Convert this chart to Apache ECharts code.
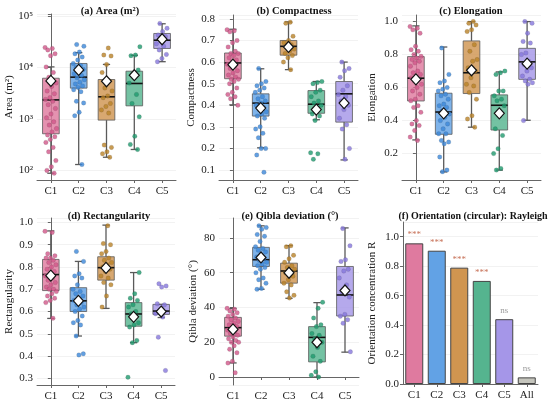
<!DOCTYPE html>
<html>
<head>
<meta charset="utf-8">
<script src="https://cdn.jsdelivr.net/npm/echarts@6/dist/echarts.min.js"></script>
<style>
html, body { margin: 0; padding: 0; background: #fff; }
#chart { width: 550px; height: 403px; }
</style>
</head>
<body>
<div id="chart"></div>
<script>
var groups = ['C1', 'C2', 'C3', 'C4', 'C5']
var orientGroups = ['C1', 'C2', 'C3', 'C4', 'C5', 'All']

// box stats per cluster: [min, q1, median, q3, max]
var areaBox = [[88, 515, 2350, 6200, 10300], [130, 3980, 6500, 12000, 19500], [180, 950, 2700, 5850, 11500], [255, 1800, 4900, 8500, 17300], [13000, 23500, 34000, 46000, 71000]]
var areaMean = [5500, 9000, 5400, 7100, 35500]
var areaPts = [
    [24500, 23500, 22000, 18500, 17000, 10300, 8000, 6500, 5000, 4300, 3500, 3100, 2600, 2400, 2200, 1900, 1600, 1250, 1050, 880, 760, 650, 560, 490, 450, 400, 350, 280, 230, 155, 118, 100, 88],
    [28000, 26000, 20000, 18500, 16000, 14000, 12000, 11000, 10000, 9200, 8400, 7600, 7000, 6300, 5800, 5200, 4800, 4400, 4100, 3700, 3400, 2200, 2050, 1350, 1150, 130],
    [24000, 17500, 16800, 11500, 8000, 5500, 4000, 3500, 2800, 2600, 2000, 1750, 1500, 1300, 310, 280, 230, 210, 180],
    [25500, 17500, 17000, 9000, 7000, 5000, 3000, 2000, 1100, 460, 320, 255],
    [72000, 58000, 50000, 43000, 40000, 33000, 29000, 26000, 22000, 18000, 15000, 13000]
]

var compBox = [[0.402, 0.523, 0.596, 0.642, 0.752], [0.203, 0.35, 0.41, 0.453, 0.569], [0.565, 0.632, 0.673, 0.70, 0.786], [0.333, 0.363, 0.405, 0.468, 0.51], [0.147, 0.322, 0.453, 0.51, 0.60]]
var compMean = [0.588, 0.387, 0.67, 0.38, 0.41]
var compPts = [
    [0.75, 0.745, 0.74, 0.70, 0.69, 0.67, 0.65, 0.64, 0.64, 0.63, 0.62, 0.61, 0.60, 0.59, 0.58, 0.57, 0.56, 0.55, 0.54, 0.53, 0.52, 0.52, 0.51, 0.50, 0.48, 0.46, 0.45, 0.44, 0.43, 0.40],
    [0.57, 0.51, 0.50, 0.49, 0.48, 0.47, 0.46, 0.44, 0.43, 0.42, 0.41, 0.40, 0.39, 0.38, 0.37, 0.36, 0.35, 0.34, 0.30, 0.29, 0.27, 0.25, 0.20, 0.20, 0.17, 0.09],
    [0.785, 0.78, 0.72, 0.70, 0.69, 0.68, 0.67, 0.66, 0.65, 0.64, 0.63, 0.62, 0.60, 0.565],
    [0.51, 0.505, 0.50, 0.47, 0.46, 0.44, 0.42, 0.41, 0.40, 0.38, 0.36, 0.35, 0.33, 0.18, 0.175, 0.15],
    [0.60, 0.57, 0.56, 0.53, 0.49, 0.47, 0.45, 0.44, 0.42, 0.40, 0.38, 0.34, 0.31, 0.29, 0.20, 0.15]
]

var elongBox = [[0.283, 0.519, 0.657, 0.788, 0.974], [0.089, 0.317, 0.452, 0.566, 0.846], [0.36, 0.564, 0.69, 0.883, 1.0], [0.10, 0.343, 0.493, 0.556, 0.695], [0.402, 0.65, 0.756, 0.838, 1.0]]
var elongMean = [0.65, 0.444, 0.705, 0.444, 0.745]
var elongPts = [
    [0.97, 0.96, 0.95, 0.93, 0.85, 0.83, 0.82, 0.80, 0.79, 0.78, 0.77, 0.76, 0.75, 0.73, 0.70, 0.69, 0.68, 0.67, 0.66, 0.65, 0.64, 0.62, 0.60, 0.58, 0.56, 0.53, 0.52, 0.49, 0.48, 0.45, 0.40, 0.38, 0.37, 0.34, 0.30, 0.28],
    [0.84, 0.68, 0.64, 0.63, 0.60, 0.59, 0.58, 0.56, 0.55, 0.53, 0.50, 0.49, 0.48, 0.46, 0.44, 0.42, 0.40, 0.38, 0.35, 0.32, 0.32, 0.28, 0.27, 0.26, 0.18, 0.10, 0.09],
    [1.0, 0.99, 0.98, 0.95, 0.94, 0.86, 0.82, 0.77, 0.76, 0.72, 0.70, 0.66, 0.62, 0.61, 0.57, 0.53, 0.43, 0.41, 0.36],
    [0.70, 0.69, 0.68, 0.58, 0.58, 0.55, 0.53, 0.52, 0.49, 0.43, 0.35, 0.31, 0.23, 0.20, 0.11, 0.10],
    [1.0, 0.99, 0.93, 0.88, 0.87, 0.81, 0.80, 0.76, 0.74, 0.72, 0.70, 0.67, 0.65, 0.64, 0.63, 0.62, 0.40]
]

var rectBox = [[0.569, 0.694, 0.766, 0.834, 0.962], [0.49, 0.60, 0.648, 0.707, 0.825], [0.614, 0.741, 0.797, 0.846, 0.988], [0.46, 0.534, 0.589, 0.64, 0.775], [0.573, 0.587, 0.602, 0.632, 0.632]]
var rectMean = [0.761, 0.648, 0.796, 0.576, 0.60]
var rectPts = [
    [0.96, 0.955, 0.86, 0.85, 0.84, 0.84, 0.83, 0.82, 0.81, 0.80, 0.79, 0.78, 0.77, 0.76, 0.75, 0.74, 0.73, 0.72, 0.71, 0.70, 0.70, 0.69, 0.68, 0.67, 0.66, 0.65, 0.64, 0.57],
    [0.87, 0.825, 0.77, 0.76, 0.75, 0.72, 0.70, 0.69, 0.68, 0.67, 0.66, 0.65, 0.64, 0.63, 0.62, 0.61, 0.60, 0.58, 0.56, 0.55, 0.54, 0.49, 0.41, 0.405],
    [0.985, 0.905, 0.90, 0.87, 0.86, 0.84, 0.83, 0.82, 0.81, 0.80, 0.79, 0.78, 0.76, 0.75, 0.73, 0.72, 0.67, 0.62],
    [0.775, 0.68, 0.66, 0.65, 0.63, 0.62, 0.60, 0.59, 0.55, 0.54, 0.53, 0.47, 0.46, 0.305],
    [0.725, 0.715, 0.71, 0.635, 0.63, 0.60, 0.59, 0.575, 0.485, 0.335]
]

var qiblaBox = [[8.1, 23.5, 28.4, 34.3, 39.5], [50.5, 63.6, 67.5, 74.6, 87], [45.3, 54, 61, 65.5, 75.6], [0, 8.7, 22.8, 29, 42.8], [14.3, 35.1, 47.2, 63.6, 85.8]]
var qiblaMean = [27.4, 68.8, 60, 20, 49.8]
var qiblaPts = [
    [39.5, 39, 38, 37, 36, 35, 34, 33, 32, 31, 30, 29, 28, 27, 26, 25, 24, 23, 22, 21, 20, 20, 18, 16, 14, 9, 8, 2.5],
    [87, 86, 85, 82, 81, 78, 75, 74, 73, 72, 70, 69, 68, 67, 66, 65, 64, 63, 62, 60, 57, 56, 54, 51, 50.5],
    [75.5, 75, 70, 68, 66, 64, 63, 62, 61, 60, 58, 56, 54, 53, 49, 47, 45.5],
    [43, 39.5, 34, 30, 29, 25, 24, 22, 20, 17, 12, 9, 3, 1, 0],
    [85.5, 75.5, 67.5, 66.5, 62, 61, 57, 53, 49, 46, 36, 35, 33, 31, 14.5]
]

var orientR = [0.955, 0.905, 0.79, 0.70, 0.44, 0.045]
var orientSig = ['***', '***', '***', '***', 'ns', 'ns']

var pointColors = ['#d1578a', '#3c87d8', '#b98228', '#1f9a6e', '#8677dc']
var fillColors = ['rgba(223,122,159,0.82)', 'rgba(98,162,229,0.82)', 'rgba(208,149,80,0.82)', 'rgba(85,180,143,0.82)', 'rgba(165,150,232,0.82)']
var barColors = ['#df7a9f', '#62a2e5', '#d09550', '#55b48f', '#a596e8', '#c5c5bd']

var FONT = 'Liberation Serif'

var panels = [
    { title: '(a) Area (m²)', tx: 105, ty: 1, name: 'Area (m²)', grid: { left: 37, top: 14, width: 139, height: 166 },
      box: areaBox, mean: areaMean, pts: areaPts, log: true, min: 65, max: 110000, gap: 22 },
    { title: '(b) Compactness', tx: 289, ty: 1, name: 'Compactness', grid: { left: 219, top: 15, width: 139, height: 165 },
      box: compBox, mean: compMean, pts: compPts, min: 0.054, max: 0.818, split: 8, gap: 22 },
    { title: '(c) Elongation', tx: 466, ty: 1, name: 'Elongation', grid: { left: 402, top: 15, width: 139, height: 165 },
      box: elongBox, mean: elongMean, pts: elongPts, min: 0.04, max: 1.04, split: 5, gap: 24 },
    { title: '(d) Rectangularity', tx: 104, ty: 206, name: 'Rectangularity', grid: { left: 37, top: 218, width: 138, height: 167 },
      box: rectBox, mean: rectMean, pts: rectPts, min: 0.27, max: 1.02, split: 8, gap: 22 },
    { title: '(e) Qibla deviation (°)', tx: 285, ty: 206, name: 'Qibla deviation (°)', grid: { left: 219, top: 218, width: 140, height: 167 },
      box: qiblaBox, mean: qiblaMean, pts: qiblaPts, min: -4.6, max: 91.5, split: 5, gap: 20, digits: 0 }
]

function jitter(i) {
    return ((i * 0.618034) % 1 - 0.5) * 0.42
}

function supDigits(n) {
    var s = '⁰¹²³⁴⁵⁶⁷⁸⁹'
    return String(n).split('').map(function (d) { return s[+d] }).join('')
}

function renderBox(params, api) {
    var x = api.value(0)
    var lo = api.coord([x, api.value(1)])
    var q1 = api.coord([x, api.value(2)])
    var md = api.coord([x, api.value(3)])
    var q3 = api.coord([x, api.value(4)])
    var hi = api.coord([x, api.value(5)])
    var bw = api.size([1, 0])[0]
    var w = bw * 0.6
    var cap = bw * 0.13
    var cx = md[0]
    var ws = { stroke: '#5a5a5a', lineWidth: 1.3 }
    return {
        type: 'group',
        children: [
            { type: 'line', shape: { x1: cx, y1: hi[1], x2: cx, y2: q3[1] }, style: ws },
            { type: 'line', shape: { x1: cx, y1: q1[1], x2: cx, y2: lo[1] }, style: ws },
            { type: 'line', shape: { x1: cx - cap, y1: hi[1], x2: cx + cap, y2: hi[1] }, style: ws },
            { type: 'line', shape: { x1: cx - cap, y1: lo[1], x2: cx + cap, y2: lo[1] }, style: ws },
            { type: 'rect', shape: { x: cx - w / 2, y: q3[1], width: w, height: q1[1] - q3[1] },
              style: { fill: fillColors[x], stroke: 'rgba(90,90,90,0.8)', lineWidth: 1 } },
            { type: 'line', shape: { x1: cx - w / 2, y1: md[1], x2: cx + w / 2, y2: md[1] },
              style: { stroke: '#111', lineWidth: 1.6 } }
        ]
    }
}

var option = {
    animation: false,
    backgroundColor: '#fff',
    textStyle: { fontFamily: FONT },
    title: [],
    grid: [],
    xAxis: [],
    yAxis: [],
    series: []
}

var axisLine = { show: true, lineStyle: { color: '#666', width: 1 } }
var yTick = { show: true, length: 3, lineStyle: { color: '#666' } }
var xTick = { show: true, length: 3, alignWithLabel: true, lineStyle: { color: '#666' } }
var xLabel = { color: '#222', fontFamily: FONT, fontSize: 11, margin: 6 }
var nameStyle = { fontFamily: FONT, fontSize: 11, color: '#222' }
var titleStyle = { fontFamily: FONT, fontSize: 10.5, fontWeight: 'bold', color: '#111' }
var gridLine = { show: true, lineStyle: { color: '#efefef', width: 0.8 } }

panels.forEach(function (p, k) {
    option.title.push({ text: p.title, left: p.tx, top: p.ty, textAlign: 'center', textStyle: titleStyle })
    option.grid.push(p.grid)
    // category axis for boxes and labels, hidden value axis for jittered points
    option.xAxis.push({ type: 'category', gridIndex: k, data: groups, boundaryGap: true,
        axisLine: axisLine, axisTick: xTick, axisLabel: xLabel, splitLine: { show: false } })
    option.xAxis.push({ type: 'value', gridIndex: k, min: -0.5, max: 4.5, show: false })
    var y = {
        type: p.log ? 'log' : 'value', gridIndex: k, min: p.min, max: p.max,
        name: p.name, nameLocation: 'middle', nameGap: p.gap, nameRotate: 90, nameTextStyle: nameStyle,
        axisLine: axisLine, axisTick: yTick,
        axisLabel: { color: '#222', fontFamily: FONT, fontSize: 11, margin: 4, showMinLabel: false, showMaxLabel: false },
        splitLine: gridLine,
        minorTick: { show: false }
    }
    if (p.log) {
        y.logBase = 10
        y.axisLabel.showMaxLabel = true
        y.axisLabel.formatter = function (v) {
            var e = Math.log10(v)
            if (Math.abs(e - Math.round(e)) > 1e-6) return ''
            return '10' + supDigits(Math.round(e))
        }
    } else {
        y.splitNumber = p.split
        var d = p.digits === undefined ? 1 : p.digits
        y.axisLabel.formatter = function (v) { return v.toFixed(d) }
    }
    option.yAxis.push(y)

    var xi = k * 2
    option.series.push({
        type: 'custom', xAxisIndex: xi, yAxisIndex: k, z: 2,
        renderItem: renderBox,
        encode: { x: 0, y: [1, 2, 3, 4, 5] },
        data: p.box.map(function (b, i) { return [i].concat(b) })
    })
    var pts = []
    p.pts.forEach(function (arr, g) {
        arr.forEach(function (v, i) {
            pts.push({ value: [g + jitter(i + g * 7), v],
                itemStyle: { color: pointColors[g], opacity: 0.8, borderColor: 'rgba(40,40,40,0.35)', borderWidth: 0.4 } })
        })
    })
    option.series.push({
        type: 'scatter', xAxisIndex: xi + 1, yAxisIndex: k, z: 3,
        symbolSize: 4.5, data: pts, silent: true
    })
    option.series.push({
        type: 'scatter', xAxisIndex: xi + 1, yAxisIndex: k, z: 4,
        symbol: 'diamond', symbolSize: [10, 11],
        itemStyle: { color: '#fff', borderColor: '#111', borderWidth: 1.2, opacity: 1 },
        data: p.mean.map(function (m, i) { return [i, m] })
    })
})

// panel (f): Rayleigh orientation concentration
var fk = panels.length
option.title.push({ text: '(f) Orientation (circular): Rayleigh', left: 468, top: 206, textAlign: 'center',
    textStyle: { fontFamily: FONT, fontSize: 10, fontWeight: 'bold', color: '#111' } })
option.grid.push({ left: 403, top: 222, width: 135, height: 162 })
option.xAxis.push({ type: 'category', gridIndex: fk, data: orientGroups,
    axisLine: axisLine, axisTick: xTick, axisLabel: xLabel })
option.yAxis.push({ type: 'value', gridIndex: fk, min: 0, max: 1.1, interval: 0.2,
    name: 'Orientation concentration R', nameLocation: 'middle', nameGap: 25, nameRotate: 90, nameTextStyle: nameStyle,
    axisLine: axisLine, axisTick: yTick,
    axisLabel: { color: '#222', fontFamily: FONT, fontSize: 11, margin: 4, showMaxLabel: false,
        formatter: function (v) { return v.toFixed(1) } },
    splitLine: gridLine })
option.series.push({
    type: 'bar', xAxisIndex: option.xAxis.length - 1, yAxisIndex: fk, barWidth: '80%',
    data: orientR.map(function (r, i) {
        return {
            value: r,
            itemStyle: { color: barColors[i], borderColor: '#444', borderWidth: 1 },
            label: { show: true, position: 'top', distance: 4, formatter: orientSig[i],
                color: orientSig[i] === 'ns' ? '#9a9a9a' : '#c8735a', fontFamily: FONT, fontSize: 9 }
        }
    })
})

var echart = echarts.init(document.getElementById('chart'), null, { renderer: 'canvas' })
echart.setOption(option)
</script>
</body>
</html>
